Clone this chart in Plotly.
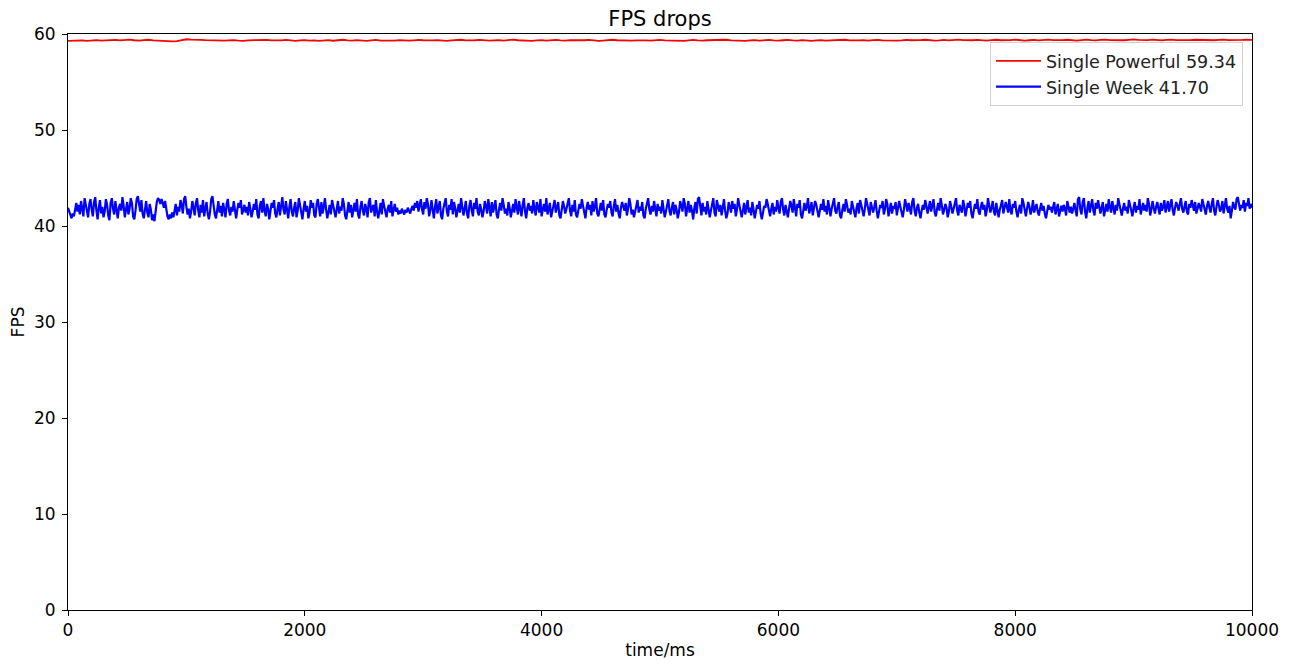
import plotly.graph_objects as go

# blue series, sampled every 10 ms
step_week = 10
fps_week = [
    41.9, 41.6, 41.1, 40.8, 41.3, 41.0, 41.7, 42.4, 41.5, 42.2,
    41.2, 42.6, 41.8, 41.0, 42.9, 42.1, 41.4, 40.9, 42.3, 42.8,
    41.7, 41.0, 42.5, 43.0, 41.6, 40.7, 41.9, 42.7, 41.3, 42.0,
    40.9, 41.5, 42.8, 42.2, 41.1, 40.6, 42.4, 42.9, 41.8, 41.2,
    42.6, 41.4, 40.8, 41.9, 42.3, 41.6, 43.0, 42.1, 40.9, 41.7,
    42.5, 41.2, 41.8, 42.9, 42.4, 41.0, 40.7, 41.6, 42.8, 43.1,
    42.2, 41.5, 42.7, 41.3, 40.8, 42.0, 42.6, 41.4, 40.9, 42.3,
    41.7, 40.6, 41.2, 40.5, 41.8, 42.5, 42.9, 42.7, 42.3, 42.8,
    42.4, 41.9, 42.6, 41.5, 41.0, 40.7, 41.2, 40.8, 41.4, 40.9,
    41.6, 42.3, 41.1, 42.0, 41.5, 42.7, 42.2, 41.3, 42.8, 43.1,
    42.0, 41.2, 41.8, 40.8, 41.5, 42.6, 41.9, 41.1, 42.4, 42.9,
    41.6, 40.9, 42.2, 41.4, 42.7, 41.0, 41.8, 42.5, 41.3, 40.7,
    41.5, 42.8, 43.1, 42.0, 41.2, 40.8, 41.9, 42.6, 41.4, 42.1,
    41.0, 42.4, 41.7, 40.9, 42.3, 42.8, 41.6, 41.1, 42.0, 41.5,
    42.6, 41.3, 40.8, 41.7, 42.4, 41.9, 42.7, 41.2, 41.6, 42.2,
    41.4, 42.0, 41.1, 42.5, 41.8, 40.9, 41.5, 42.3, 41.7, 42.8,
    41.2, 40.8, 42.1, 42.6, 41.4, 42.9, 41.6, 41.0, 42.3, 41.8,
    40.7, 41.5, 42.4, 41.9, 42.7, 41.3, 40.9, 41.8, 42.5, 41.1,
    42.2, 43.0, 41.7, 41.2, 42.6, 41.4, 40.8, 42.0, 42.8, 41.5,
    41.0, 41.9, 42.5, 40.9, 41.6, 42.9, 42.2, 41.3, 40.7, 41.8,
    42.6, 41.5, 42.1, 40.8, 41.4, 42.7, 41.9, 42.4, 41.1, 40.9,
    42.3, 42.8, 41.6, 41.0, 42.5, 41.3, 42.0, 42.9, 41.7, 40.8,
    41.5, 42.2, 41.2, 42.7, 42.1, 41.4, 40.9, 41.8, 42.6, 41.3,
    42.0, 41.6, 42.9, 42.3, 41.1, 40.7, 41.9, 42.5, 41.4, 42.2,
    40.9, 41.7, 42.4, 41.5, 42.8, 41.2, 40.8, 42.0, 42.6, 41.6,
    41.1, 42.3, 41.8, 40.9, 42.5, 42.9, 41.4, 41.9, 42.2, 41.0,
    42.7, 41.5, 40.8, 41.6, 42.4, 41.2, 42.8, 42.1, 41.3, 40.9,
    41.8, 42.2, 41.4, 42.6, 41.0, 41.7, 42.3, 41.5, 41.9, 41.2,
    41.6, 41.3, 41.8, 41.5, 41.2, 41.7, 41.4, 41.9, 41.6, 41.3,
    41.8, 42.1, 41.6, 42.4, 41.9, 42.6, 41.5, 42.2, 42.8, 41.7,
    41.2, 42.5, 41.8, 42.9, 42.3, 41.0, 41.6, 42.7, 41.4, 40.8,
    42.0, 42.8, 41.3, 41.9, 42.6, 41.1, 40.7, 41.8, 42.4, 42.9,
    41.5, 41.0, 42.2, 41.7, 42.8, 41.2, 42.5, 41.9, 40.9, 41.6,
    42.3, 41.4, 42.9, 42.0, 41.1, 41.8, 42.6, 41.3, 40.8, 42.1,
    42.7, 41.6, 41.0, 42.4, 41.8, 42.9, 41.5, 41.1, 42.3, 41.7,
    40.9, 41.5, 42.6, 42.1, 41.3, 42.8, 41.9, 41.0, 42.5, 41.4,
    42.0, 42.7, 41.2, 40.8, 41.7, 42.4, 41.6, 42.9, 42.2, 41.3,
    41.8, 41.1, 42.5, 41.9, 40.9, 41.6, 42.3, 41.4, 42.8, 42.0,
    41.2, 42.6, 41.7, 41.0, 42.2, 42.9, 41.5, 40.8, 41.9, 42.4,
    41.6, 42.1, 41.3, 42.7, 41.8, 41.1, 42.5, 42.0, 41.4, 42.8,
    41.0, 41.7, 42.3, 41.5, 42.9, 41.2, 41.8, 42.4, 40.9, 41.6,
    42.2, 42.7, 41.4, 41.9, 42.5, 41.1, 40.8, 41.7, 42.6, 42.0,
    41.3, 41.8, 42.4, 42.9, 41.6, 41.0, 42.2, 41.5, 42.7, 41.2,
    40.9, 41.6, 42.3, 41.8, 42.8, 42.1, 41.4, 40.8, 41.9, 42.5,
    41.7, 42.2, 41.1, 42.6, 41.5, 42.0, 42.9, 41.3, 41.0, 41.8,
    42.4, 41.6, 42.7, 41.2, 40.9, 41.7, 42.3, 41.9, 42.6, 41.4,
    41.0, 42.1, 42.8, 41.5, 42.2, 41.3, 40.8, 41.9, 42.5, 42.0,
    41.6, 42.4, 41.1, 41.8, 42.9, 42.3, 41.2, 41.7, 40.9, 41.5,
    42.2, 42.7, 41.4, 42.0, 41.6, 42.5, 41.1, 40.8, 41.8, 42.4,
    42.9, 41.7, 41.2, 42.1, 41.5, 42.6, 41.9, 41.0, 42.3, 41.6,
    42.0, 41.3, 42.7, 41.8, 40.9, 41.5, 42.4, 42.8, 41.6, 41.1,
    41.9, 42.5, 41.2, 42.2, 41.7, 40.8, 41.4, 42.6, 42.1, 41.5,
    42.9, 42.3, 41.0, 41.8, 42.6, 41.4, 42.2, 41.6, 40.7, 41.9,
    42.5, 41.3, 42.8, 43.0, 41.7, 41.1, 42.4, 41.5, 42.0, 41.2,
    42.6, 41.8, 40.9, 41.6, 42.3, 42.9, 41.4, 41.0, 42.7, 42.1,
    41.5, 42.2, 41.1, 41.9, 42.8, 41.6, 40.8, 41.3, 42.5, 42.0,
    41.4, 42.6, 41.8, 42.3, 41.0, 41.7, 42.9, 42.2, 41.5, 40.9,
    41.6, 42.4, 41.2, 42.0, 42.7, 41.4, 41.9, 41.1, 42.5, 41.7,
    40.8, 41.5, 42.2, 41.8, 42.6, 41.3, 40.7, 41.4, 42.1, 41.9,
    42.8, 42.3, 41.6, 41.0, 41.8, 42.4, 41.2, 42.0, 41.5, 42.7,
    41.9, 41.3, 42.5, 42.9, 41.7, 41.1, 42.2, 41.6, 40.9, 41.8,
    42.6, 42.1, 41.4, 42.8, 41.5, 41.0, 42.3, 41.9, 42.7, 41.2,
    40.8, 41.7, 42.4, 41.6, 42.0, 42.9, 41.3, 41.8, 42.5, 41.1,
    41.9, 42.6, 42.2, 41.4, 40.9, 41.6, 42.3, 41.7, 42.8, 41.5,
    42.1, 41.2, 42.7, 41.9, 41.0, 41.8, 42.4, 42.9, 41.6, 41.3,
    42.0, 42.5, 41.1, 40.8, 41.7, 42.3, 41.5, 42.8, 42.2, 41.4,
    41.8, 41.2, 42.6, 42.0, 41.6, 40.9, 41.9, 42.4, 41.3, 42.7,
    42.2, 41.5, 41.0, 41.8, 42.9, 42.3, 41.7, 41.1, 42.5, 41.9,
    41.4, 42.0, 42.7, 41.6, 40.8, 41.5, 42.2, 41.9, 42.6, 41.2,
    41.7, 42.8, 42.3, 41.0, 41.6, 42.4, 41.3, 42.1, 41.8, 42.5,
    41.1, 41.9, 42.6, 42.0, 41.4, 40.9, 41.7, 42.8, 42.2, 41.5,
    42.4, 41.8, 41.2, 42.5, 42.9, 41.6, 41.0, 41.9, 42.3, 41.4,
    40.8, 41.6, 42.2, 41.7, 42.7, 42.1, 41.3, 41.9, 42.6, 41.5,
    42.0, 42.8, 41.4, 41.0, 41.8, 42.4, 41.6, 42.9, 42.2, 41.2,
    41.7, 42.3, 41.9, 40.9, 41.5, 42.6, 42.0, 41.3, 41.8, 42.5,
    42.9, 41.6, 41.1, 42.2, 41.8, 41.4, 42.7, 42.1, 41.0, 41.7,
    42.4, 41.9, 42.6, 41.3, 40.8, 41.6, 42.3, 41.8, 42.8, 41.5,
    41.2, 42.0, 42.5, 41.7, 42.2, 41.0, 41.6, 42.9, 42.3, 41.4,
    41.9, 42.6, 41.5, 41.1, 42.4, 41.8, 40.9, 41.7, 42.1, 42.7,
    41.3, 41.8, 42.5, 42.0, 41.4, 42.8, 41.6, 41.2, 42.3, 41.9,
    42.6, 41.5, 40.9, 41.7, 42.2, 41.3, 42.9, 42.4, 41.6, 41.0,
    41.8, 42.5, 42.0, 41.2, 41.7, 42.7, 41.4, 41.9, 42.3, 41.5,
    41.1, 41.8, 42.4, 41.6, 42.1, 41.3, 40.8, 41.5, 42.2, 41.7,
    42.0, 41.4, 41.9, 42.5, 41.2, 41.7, 42.3, 41.0, 41.6, 42.1,
    41.5, 42.2, 41.8, 41.1, 42.6, 41.9, 41.4, 42.0, 41.3, 41.8,
    42.4, 41.6, 41.0, 42.8, 43.0, 41.7, 41.2, 42.5, 42.9, 41.5,
    40.8, 41.9, 42.6, 41.4, 42.2, 42.8, 41.6, 41.1, 42.4, 41.8,
    42.7, 42.1, 41.3, 41.9, 42.5, 41.0, 41.7, 42.3, 41.5, 42.8,
    42.0, 41.4, 42.6, 41.8, 41.2, 42.2, 41.6, 42.9, 42.3, 41.5,
    41.1, 41.8, 42.4, 41.6, 42.0, 41.3, 42.7, 42.2, 41.7, 41.0,
    41.9, 42.5, 41.4, 42.1, 41.7, 42.8, 41.2, 41.8, 42.4, 41.6,
    42.2, 41.5, 42.9, 42.3, 41.1, 41.7, 42.6, 41.9, 41.3, 42.0,
    42.5, 41.8, 41.2, 42.4, 41.6, 42.0, 42.7, 41.4, 41.9, 42.6,
    41.5, 42.2, 42.8, 41.7, 41.1, 41.9, 42.5, 42.1, 41.6, 42.3,
    42.9, 41.8, 41.4, 42.0, 42.6, 41.5, 41.2, 42.3, 41.9, 42.7,
    42.2, 41.6, 42.5, 41.3, 41.8, 42.4, 42.0, 41.5, 42.8, 42.2,
    41.7, 41.2, 42.1, 42.6, 41.9, 41.4, 42.3, 42.9, 41.6, 41.1,
    42.0, 42.7, 42.2, 41.5, 41.8, 42.6, 41.3, 42.4, 42.9, 41.8,
    41.4, 42.1, 40.8, 41.6, 42.5, 42.0, 41.7, 42.8, 43.0, 42.3,
    41.6, 42.2, 41.9, 42.7, 41.5, 42.4, 42.1, 42.9, 41.8, 42.3,
    41.9,
]

# red series, sampled every 40 ms
step_powerful = 40
fps_powerful = [
    59.28, 59.31, 59.30, 59.34, 59.29, 59.33, 59.36, 59.32, 59.35, 59.31,
    59.38, 59.33, 59.36, 59.41, 59.35, 59.32, 59.37, 59.40, 59.34, 59.30,
    59.33, 59.27, 59.24, 59.26, 59.38, 59.45, 59.41, 59.43, 59.39, 59.36,
    59.34, 59.31, 59.35, 59.30, 59.33, 59.37, 59.32, 59.29, 59.34, 59.36,
    59.31, 59.35, 59.39, 59.33, 59.30, 59.34, 59.38, 59.32, 59.29, 59.33,
    59.36, 59.31, 59.34, 59.29, 59.33, 59.37, 59.30, 59.35, 59.40, 59.34,
    59.31, 59.36, 59.33, 59.29, 59.34, 59.38, 59.32, 59.30, 59.35, 59.31,
    59.37, 59.33, 59.30, 59.34, 59.39, 59.35, 59.31, 59.34, 59.37, 59.32,
    59.29, 59.33, 59.36, 59.40, 59.34, 59.31, 59.35, 59.38, 59.33, 59.30,
    59.34, 59.37, 59.32, 59.36, 59.41, 59.35, 59.31, 59.34, 59.29, 59.33,
    59.37, 59.32, 59.35, 59.39, 59.33, 59.30, 59.36, 59.34, 59.31, 59.35,
    59.38, 59.33, 59.29, 59.32, 59.36, 59.40, 59.35, 59.31, 59.34, 59.30,
    59.33, 59.37, 59.34, 59.30, 59.35, 59.39, 59.33, 59.31, 59.36, 59.32,
    59.29, 59.34, 59.38, 59.33, 59.30, 59.35, 59.37, 59.32, 59.36, 59.40,
    59.34, 59.31, 59.35, 59.29, 59.33, 59.36, 59.31, 59.34, 59.38, 59.33,
    59.30, 59.35, 59.39, 59.34, 59.31, 59.36, 59.33, 59.29, 59.34, 59.37,
    59.32, 59.35, 59.31, 59.36, 59.40, 59.34, 59.30, 59.33, 59.37, 59.32,
    59.36, 59.39, 59.34, 59.31, 59.35, 59.30, 59.33, 59.38, 59.35, 59.32,
    59.36, 59.40, 59.35, 59.31, 59.34, 59.38, 59.33, 59.37, 59.41, 59.36,
    59.32, 59.35, 59.39, 59.34, 59.30, 59.36, 59.40, 59.35, 59.33, 59.37,
    59.41, 59.36, 59.32, 59.35, 59.39, 59.34, 59.38, 59.42, 59.37, 59.33,
    59.36, 59.40, 59.35, 59.31, 59.37, 59.41, 59.36, 59.33, 59.38, 59.42,
    59.37, 59.34, 59.38, 59.35, 59.39, 59.43, 59.38, 59.34, 59.37, 59.41,
    59.36, 59.33, 59.38, 59.42, 59.37, 59.35, 59.39, 59.36, 59.40, 59.37,
    59.41, 59.38, 59.35, 59.39, 59.42, 59.37, 59.40, 59.36, 59.39, 59.41,
    59.38,
]

label_powerful = "Single Powerful 59.34"
label_week = "Single Week 41.70"

x_ticks = [0, 2000, 4000, 6000, 8000, 10000]
y_ticks = [0, 10, 20, 30, 40, 50, 60]

t_powerful = [i * step_powerful for i in range(len(fps_powerful))]
t_week = [i * step_week for i in range(len(fps_week))]

fig = go.Figure()
fig.add_trace(go.Scatter(x=t_powerful, y=fps_powerful, mode="lines",
                         name=label_powerful, line=dict(color="#ff0000", width=1.8)))
fig.add_trace(go.Scatter(x=t_week, y=fps_week, mode="lines",
                         name=label_week, line=dict(color="#0000ff", width=2.2)))

axis_style = dict(
    showline=True, linecolor="black", linewidth=1, mirror=True,
    ticks="outside", ticklen=5, tickwidth=1, tickcolor="black",
    showgrid=False, zeroline=False, automargin=False,
    tickfont=dict(size=17, color="black"),
)

# the page body adds an 8px offset, margins compensate for it
fig.update_layout(
    width=1298,
    height=666,
    margin=dict(l=60, r=54, t=26, b=64),
    paper_bgcolor="white",
    plot_bgcolor="white",
    font=dict(family="DejaVu Sans", size=17, color="black"),
    title=dict(text="FPS drops", x=(60 + 1244) / 2 / 1298, xanchor="center",
               y=1 - 11 / 666, yanchor="middle", font=dict(size=21, color="black")),
    xaxis=dict(range=[0, 10000], tickvals=x_ticks, tickformat="d",
               title=dict(text="time/ms", standoff=4, font=dict(size=17)), **axis_style),
    yaxis=dict(range=[0, 60], tickvals=y_ticks, ticklabelstandoff=3,
               title=dict(text="FPS", standoff=8, font=dict(size=17)), **axis_style),
    legend=dict(x=0.9924, y=0.986, xanchor="right", yanchor="top",
                bgcolor="white", bordercolor="#d0d0d0", borderwidth=1,
                itemwidth=45,
                font=dict(size=17.5, color="#222222"), tracegroupgap=0),
    showlegend=True,
)

fig.write_html("out.html")
